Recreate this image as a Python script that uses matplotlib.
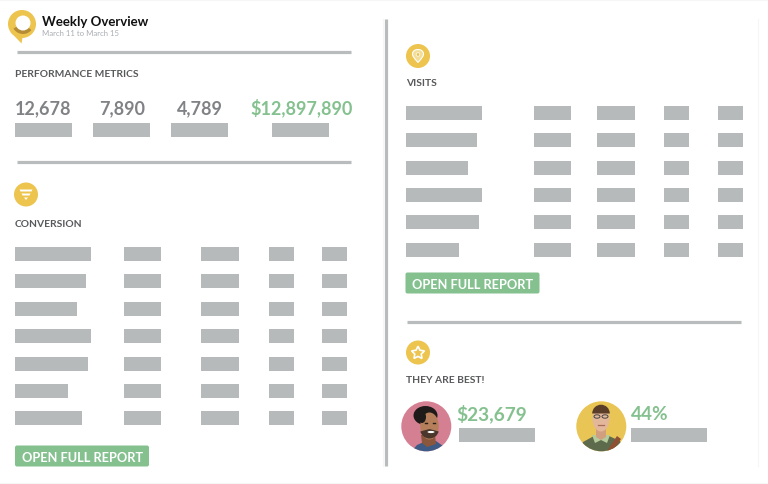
#!/usr/bin/env python3
"""Weekly overview dashboard, drawn on one full-figure axes in pixel units."""

import matplotlib
matplotlib.use("Agg")
import matplotlib.pyplot as plt
from matplotlib.patches import Circle, Ellipse, FancyBboxPatch, PathPatch, Polygon, Wedge
from matplotlib.path import Path

plt.rcParams["font.family"] = ["Lato", "DejaVu Sans"]

YELLOW = "#ecc44e"
GREEN = "#84c18f"
BAR_GREY = "#b6baba"
RULE_GREY = "#b8bcbc"
HEAD_GREY = "#58595b"
NUM_GREY = "#808285"

# data
title = "Weekly Overview"
subtitle = "March 11 to March 15"
metric_values = ["12,678", "7,890", "4,789", "$12,897,890"]
metric_bar_widths = [57, 57, 57, 57]
conversion_name_widths = [76, 71, 62, 76, 73, 53, 66.5]
visits_name_widths = [76, 71, 62, 76, 73, 53]
other_col_widths = [37, 37.5, 25, 25]
best_values = ["$23,679", "44%"]
best_bar_widths = [76, 76]

# layout in pixels
W, H = 768, 485
ROW_STEP = 27.4
BAR_H = 14

fig = plt.figure(figsize=(W / 100, H / 100), dpi=100, facecolor="white")
ax = fig.add_axes([0, 0, 1, 1])
ax.set_xlim(0, W)
ax.set_ylim(H, 0)
ax.axis("off")


def px(size):
    # font size given in pixels
    return size * 0.72


def table(x0, y0, name_widths, col_x):
    ys = [y0 + i * ROW_STEP + BAR_H / 2 for i in range(len(name_widths))]
    ax.barh(ys, name_widths, left=x0, height=BAR_H, color=BAR_GREY)
    for x, w in zip(col_x, other_col_widths):
        ax.barh(ys, [w] * len(ys), left=x, height=BAR_H, color=BAR_GREY)


def button(x, y):
    ax.add_patch(FancyBboxPatch((x + 2, y + 2.5), 130, 17, boxstyle="round,pad=2,rounding_size=2",
                                fc=GREEN, ec="none"))
    ax.text(x + 67, y + 16, "OPEN FULL REPORT", color="white", fontsize=px(12.8),
            fontweight="bold", ha="center", va="baseline")


def heading(x, y, s):
    ax.text(x, y, s, color=HEAD_GREY, fontsize=px(10.3), fontweight="bold", va="baseline")


# faint card edges
for xs, ys in [((0, W), (0.5, 0.5)), ((0, W), (484, 484)), ((383, 383), (20, 467)), ((758, 758), (20, 467))]:
    ax.plot(xs, ys, color="#f6f6f6", lw=0.8)

# rules
ax.plot([17, 351], [52.5, 52.5], color=RULE_GREY, lw=2.3, solid_capstyle="butt")
ax.plot([17, 351], [163, 163], color=RULE_GREY, lw=2.3, solid_capstyle="butt")
ax.plot([407, 741], [322.5, 322.5], color=RULE_GREY, lw=2.3, solid_capstyle="butt")
ax.plot([385.5, 385.5], [20, 467], color=RULE_GREY, lw=2.3, solid_capstyle="butt")

# logo pin
ax.add_patch(Circle((22, 25), 14, fc=YELLOW, ec="none"))
ax.add_patch(Polygon([(10.5, 33), (21.5, 44.5), (22.5, 38.5), (28, 37)], fc=YELLOW, ec="none"))
ax.add_patch(Wedge((23, 24), 11, 40, 150, fc="#a9802f", ec="none", alpha=0.8))
ax.add_patch(Circle((23, 24), 7.5, fc="white", ec="none"))
ax.text(42, 26, title, color="#111111", fontsize=px(13.2), fontweight="bold", va="baseline")
ax.text(42, 36, subtitle, color="#a9adb2", fontsize=px(7.8), va="baseline")

# performance metrics
heading(15, 77.3, "PERFORMANCE METRICS")
metric_centers = [43, 122.5, 199.5, 302]
metric_lefts = [15, 93, 170.5, 272]
for s, cx in zip(metric_values, metric_centers):
    ax.text(cx, 114, s, color=GREEN if s.startswith("$") else NUM_GREY, fontsize=px(18),
            fontweight="bold", ha="center", va="baseline")
ax.barh([130.5] * 4, metric_bar_widths, left=metric_lefts, height=BAR_H, color=BAR_GREY)

# conversion
ax.add_patch(Circle((26, 195.5), 12, fc=YELLOW, ec="none"))
ax.add_patch(Polygon([(19.5, 190.5), (32.5, 190.5), (31.5, 192.5), (20.5, 192.5)], fc="white", ec="none"))
ax.add_patch(Polygon([(21.5, 194.5), (30.5, 194.5), (29.5, 196.5), (22.5, 196.5)], fc="white", ec="none"))
ax.add_patch(Polygon([(24, 198.5), (28, 198.5), (26, 201)], fc="white", ec="none"))
heading(15, 226.7, "CONVERSION")
table(15, 248, conversion_name_widths, [124, 201.3, 268.7, 322.3])
button(15, 446)

# visits
ax.add_patch(Circle((418, 57), 12, fc=YELLOW, ec="none"))
marker = Path(
    [(418, 63.5), (414, 59), (412.5, 57), (412.5, 55), (412.5, 49), (423.5, 49), (423.5, 55), (423.5, 57), (422, 59),
     (418, 63.5), (418, 63.5)],
    [Path.MOVETO, Path.CURVE4, Path.CURVE4, Path.CURVE4, Path.CURVE4, Path.CURVE4, Path.CURVE4, Path.CURVE4,
     Path.CURVE4, Path.CURVE4, Path.CLOSEPOLY],
)
ax.add_patch(PathPatch(marker, fc="#f3dd99", ec="white", lw=0.8))
ax.add_patch(Circle((418, 55.5), 1.8, fc=YELLOW, ec="white", lw=0.5))
heading(406, 85.5, "VISITS")
table(406, 106.7, visits_name_widths, [533.7, 597, 664, 717.7])
button(405.5, 273)

# best performers
ax.add_patch(Circle((418, 353.5), 12, fc=YELLOW, ec="none"))
star_path = Path.unit_regular_star(5, innerCircle=0.5)
star = Path(star_path.vertices * [6.8, -6.8] + [418, 354], star_path.codes)
ax.add_patch(PathPatch(star, fc="none", ec="white", lw=1.2))
heading(406, 382.7, "THEY ARE BEST!")


def clipped(patch, clip):
    ax.add_patch(patch)
    patch.set_clip_path(clip)


# first avatar
bg1 = Circle((426.3, 427.3), 25, fc="#d57f93", ec="none")
ax.add_patch(bg1)
clipped(Polygon([(411, 453), (417, 446), (426, 442), (436, 442), (443, 447), (443, 453)],
                fc="#3d5b85", ec="none"), bg1)
clipped(Polygon([(421, 436), (435, 436), (436, 445), (427, 448), (422, 444)], fc="#8a573d", ec="none"), bg1)
clipped(Ellipse((425.5, 416.5), 24, 19, fc="#1e1a1a", ec="none"), bg1)
clipped(Ellipse((429.5, 427), 18.5, 27, fc="#b57f5b", ec="none"), bg1)
clipped(Wedge((429.5, 430), 9.5, 15, 165, fc="#4a362b", ec="none"), bg1)
clipped(Ellipse((422, 418), 8, 12, fc="#1e1a1a", ec="none"), bg1)
clipped(Ellipse((431, 433), 7, 2.2, fc="white", ec="none"), bg1)
ax.plot([424.5, 427], [423.5, 423.5], color="#2a1d18", lw=1)
ax.plot([432.5, 435], [423.5, 423.5], color="#2a1d18", lw=1)

# second avatar
bg2 = Circle((601.3, 427.3), 25, fc="#e9c555", ec="none")
ax.add_patch(bg2)
clipped(Polygon([(578, 453), (583, 443), (594, 437), (609, 437), (620, 442), (625, 453)],
                fc="#5d6b4c", ec="none"), bg2)
clipped(Polygon([(607, 452), (617, 437), (621, 440), (612, 453)], fc="#8f5034", ec="none"), bg2)
clipped(Polygon([(592, 436), (610, 436), (607, 444), (601, 441), (595, 444)], fc="#b6cb9b", ec="none"), bg2)
clipped(Polygon([(596, 428), (606, 428), (606, 438), (601, 441), (596, 438)], fc="#cf9f80", ec="none"), bg2)
clipped(Ellipse((601, 420), 17, 25, fc="#e3b79a", ec="none"), bg2)
clipped(Wedge((601, 414.5), 8.8, 180, 360, fc="#5a3d28", ec="none"), bg2)
clipped(Ellipse((597, 417.5), 6, 3.4, fc="none", ec="#444444", lw=0.7), bg2)
clipped(Ellipse((605, 417.5), 6, 3.4, fc="none", ec="#444444", lw=0.7), bg2)
ax.plot([598, 604], [426, 426], color="#a86a5a", lw=0.9)

ax.text(456.5, 420.3, best_values[0], color=GREEN, fontsize=px(19), fontweight="bold", va="baseline")
ax.text(630.5, 420.3, best_values[1], color=GREEN, fontsize=px(19), fontweight="bold", va="baseline")
ax.barh([436, 436], best_bar_widths, left=[459, 631.3], height=BAR_H, color=BAR_GREY)

fig.savefig("out.png", dpi=100, facecolor="white")
